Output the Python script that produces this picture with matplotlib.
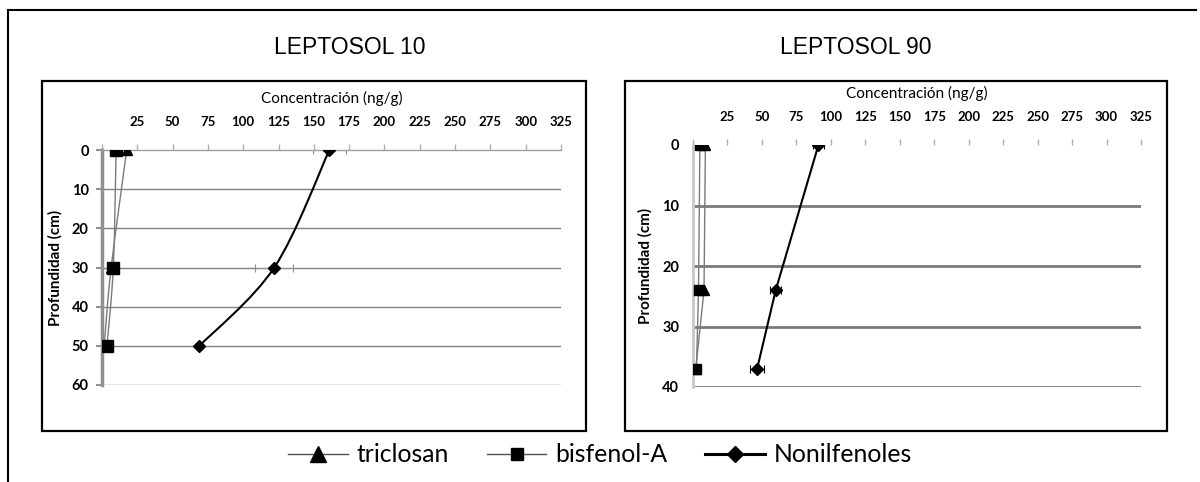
import matplotlib
matplotlib.use("Agg")
import matplotlib.pyplot as plt
from matplotlib.path import Path
from matplotlib.patches import PathPatch, Rectangle
from matplotlib.lines import Line2D
from matplotlib import font_manager

# ─── DATA ──────────────────────────────────────────────────────────────────────
conc_ticks = [0, 25, 50, 75, 100, 125, 150, 175, 200, 225, 250, 275, 300, 325]

# LEPTOSOL 10
depth_ticks_10 = [0, 10, 20, 30, 40, 50, 60]
depth_10 = [0, 30, 50]
triclosan_10 = [17.5, 6.5, 1.5]
bisfenol_10 = [10, 8, 3.5]
nonil_10 = [161, 122, 69]
nonil_err_10 = [11.5, 13.5, 2]

# LEPTOSOL 90
depth_ticks_90 = [0, 10, 20, 30, 40]
depth_90 = [0, 24, 37]
triclosan_90 = [9, 8, 2]
bisfenol_90 = [5, 4, 2.5]
nonil_90 = [91, 60, 46.5]
nonil_err_90 = [4, 4, 5]

titles = ["LEPTOSOL 10", "LEPTOSOL 90"]
series_names = ["triclosan", "bisfenol-A", "Nonilfenoles"]

# ─── FONTS ─────────────────────────────────────────────────────────────────────
def has_font(name):
    try:
        font_manager.findfont(name, fallback_to_default=False)
        return True
    except Exception:
        return False

NARROW = has_font("Liberation Sans Narrow")
TITLE_FONT = "Liberation Sans Narrow" if NARROW else "Liberation Sans"
TITLE_SIZE = 18 if NARROW else 16.5
AX_FONT = "Lato"

W, H = 1200, 482
fig = plt.figure(figsize=(W / 100, H / 100), dpi=100)


def fx(px):
    return px / W


def fy(py):
    return 1 - py / H


def add_box(x0, y0, x1, y1, **kw):
    fig.patches.append(Rectangle((fx(x0), fy(y1)), fx(x1 - x0), (y1 - y0) / H,
                                 transform=fig.transFigure, fill=False, **kw))


# outer frame (top + left only)
fig.add_artist(Line2D([fx(8), fx(1196)], [fy(10), fy(10)], color="black", lw=1.5, transform=fig.transFigure))
fig.add_artist(Line2D([fx(8), fx(8)], [fy(10), fy(482)], color="black", lw=1.5, transform=fig.transFigure))

# chart boxes
add_box(42, 81, 586, 431, edgecolor="black", lw=1.6)
add_box(625, 81, 1167, 431, edgecolor="black", lw=1.6)


def smooth_path(xs, ys, sx, sy):
    # Excel-like smoothed line (Catmull-Rom -> Bezier) in screen-ish units
    px = [x * sx for x in xs]
    py = [y * sy for y in ys]
    n = len(px)
    verts = [(xs[0], ys[0])]
    codes = [Path.MOVETO]
    for i in range(n - 1):
        p0 = (px[i - 1], py[i - 1]) if i > 0 else (px[i], py[i])
        p1 = (px[i], py[i])
        p2 = (px[i + 1], py[i + 1])
        p3 = (px[i + 2], py[i + 2]) if i + 2 < n else p2
        c1 = (p1[0] + (p2[0] - p0[0]) / 6, p1[1] + (p2[1] - p0[1]) / 6)
        c2 = (p2[0] - (p3[0] - p1[0]) / 6, p2[1] - (p3[1] - p1[1]) / 6)
        verts += [(c1[0] / sx, c1[1] / sy), (c2[0] / sx, c2[1] / sy), (xs[i + 1], ys[i + 1])]
        codes += [Path.CURVE4] * 3
    return Path(verts, codes)


def make_axes(x0, x1, y0, y1, dmax, yticks):
    ax = fig.add_axes([fx(x0), fy(y1), fx(x1 - x0), (y1 - y0) / H])
    ax.set_xlim(0, 325)
    ax.set_ylim(dmax, 0)
    ax.set_facecolor("none")
    for s in ("bottom", "right"):
        ax.spines[s].set_visible(False)
    ax.xaxis.tick_top()
    ax.xaxis.set_label_position("top")
    ax.set_xticks(conc_ticks)
    ax.set_xticklabels([str(t) if t else "" for t in conc_ticks],
                       fontfamily=AX_FONT, fontweight="bold", fontsize=9.5)
    ax.set_yticks(yticks)
    ax.set_yticklabels([str(t) for t in yticks], fontfamily=AX_FONT, fontweight="bold", fontsize=10.5)
    ax.tick_params(axis="x", direction="out", length=4, color="#b0b0b0", width=1, pad=12)
    ax.set_xlabel("Concentración (ng/g)", fontfamily=AX_FONT, fontsize=11, labelpad=9)
    ax.set_ylabel("Profundidad (cm)", fontfamily=AX_FONT, fontweight="bold", fontsize=11, labelpad=7)
    return ax


# ─── LEPTOSOL 10 ───────────────────────────────────────────────────────────────
ax1 = make_axes(102, 561, 150, 385, 60, depth_ticks_10)
ax1.spines["top"].set_color("#a0a0a0")
ax1.spines["top"].set_linewidth(1)
ax1.spines["left"].set_color("#909090")
ax1.spines["left"].set_linewidth(2.5)
ax1.tick_params(axis="y", direction="out", length=4, color="#909090", width=1.5, pad=5.5)
for d in depth_ticks_10[1:]:
    ax1.axhline(d, color="#808080", lw=1, zorder=0)

sx1, sy1 = 459 / 325, 235 / 60
for vals, mk, ms in [(triclosan_10, "^", 7.5), (bisfenol_10, "s", 8.5)]:
    ax1.add_patch(PathPatch(smooth_path(vals, depth_10, sx1, sy1), fill=False,
                            edgecolor="#7a7a7a", lw=1, zorder=2))
    ax1.plot(vals, depth_10, ls="none", marker=mk, ms=ms, color="black", zorder=3)
ax1.errorbar(nonil_10, depth_10, xerr=nonil_err_10, fmt="none", ecolor="#909090",
             elinewidth=0.8, capsize=3, capthick=0.8, zorder=2)
ax1.add_patch(PathPatch(smooth_path(nonil_10, depth_10, sx1, sy1), fill=False,
                        edgecolor="black", lw=1.5, zorder=3))
ax1.plot(nonil_10, depth_10, ls="none", marker="D", ms=6.5, color="black", zorder=4)

# ─── LEPTOSOL 90 ───────────────────────────────────────────────────────────────
ax2 = make_axes(693, 1141, 145, 387, 40, depth_ticks_90)
ax2.spines["top"].set_visible(False)
ax2.spines["left"].set_color("#c8c8c8")
ax2.spines["left"].set_linewidth(2)
ax2.tick_params(axis="y", direction="out", length=0, pad=10)
for d in depth_ticks_90[1:]:
    ax2.axhline(d, color="#7a7a7a", lw=2, zorder=0)

for vals, mk, ms in [(triclosan_90, "^", 7.5), (bisfenol_90, "s", 7.5)]:
    ax2.plot(vals, depth_90, color="#7a7a7a", lw=1, zorder=2)
    ax2.plot(vals, depth_90, ls="none", marker=mk, ms=ms, color="black", zorder=3)
ax2.errorbar(nonil_90, depth_90, xerr=nonil_err_90, fmt="none", ecolor="black",
             elinewidth=0.8, capsize=3, capthick=0.8, zorder=2)
ax2.plot(nonil_90, depth_90, color="black", lw=1.5, marker="D", ms=6.5, zorder=4)

# ─── TITLES ────────────────────────────────────────────────────────────────────
fig.text(fx(350), fy(47), titles[0], ha="center", va="center", fontsize=TITLE_SIZE, fontfamily=TITLE_FONT)
fig.text(fx(856), fy(47), titles[1], ha="center", va="center", fontsize=TITLE_SIZE, fontfamily=TITLE_FONT)

# ─── LEGEND ────────────────────────────────────────────────────────────────────
handles = [
    Line2D([], [], color="#505050", lw=1, marker="^", ms=11, markerfacecolor="black", markeredgecolor="black"),
    Line2D([], [], color="#505050", lw=1, marker="s", ms=9, markerfacecolor="black", markeredgecolor="black"),
    Line2D([], [], color="black", lw=2.2, marker="D", ms=8),
]
fig.legend(handles, series_names, loc="center", bbox_to_anchor=(fx(600), fy(455)), ncol=3,
           frameon=False, prop={"family": AX_FONT, "size": 17.8}, handlelength=2.4,
           handletextpad=0.35, columnspacing=1.55)

fig.savefig("out.png", dpi=100)
